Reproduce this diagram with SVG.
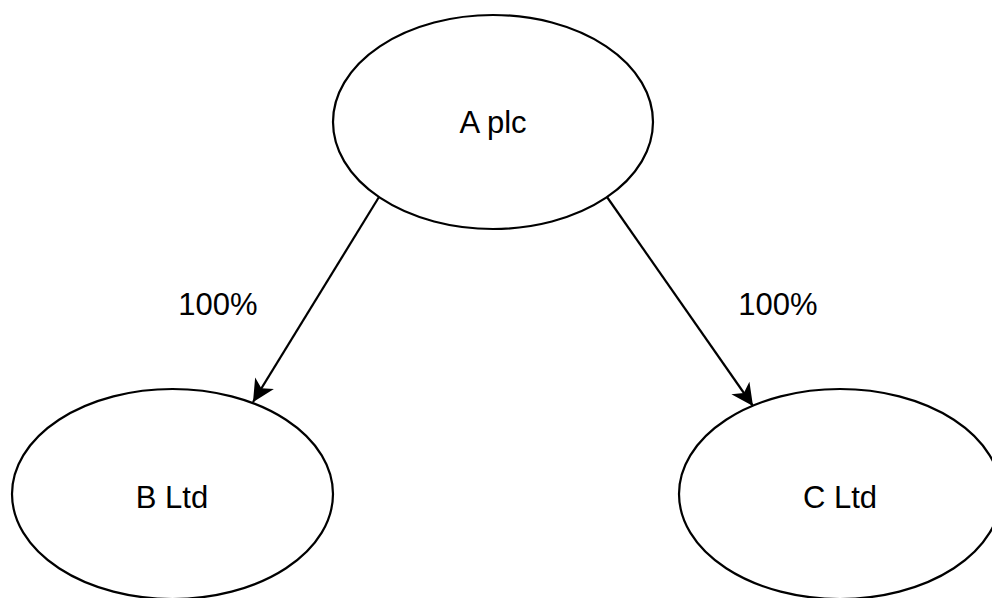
<svg xmlns="http://www.w3.org/2000/svg" width="992" height="598" viewBox="0 0 992 598">
<style>
.node ellipse{fill:#fff;stroke:#000;stroke-width:2.2}
.node text,.label{font-family:"Liberation Sans",Arial,Helvetica,sans-serif;font-size:31px;fill:#000;text-anchor:middle}
.edge{fill:none;stroke:#000;stroke-width:2.2}
</style>
<defs>
<marker id="arr" markerUnits="userSpaceOnUse" markerWidth="26" markerHeight="26" viewBox="-24 -13 26 26" refX="0" refY="0" orient="auto">
<path d="M0,0 L-22,-11 L-16,0 L-22,11 Z" fill="#000"/>
</marker>
</defs>
<rect width="992" height="598" fill="#fff"/>
<g id="connectors">
<line class="edge" x1="379" y1="197" x2="253" y2="402" marker-end="url(#arr)"/>
<line class="edge" x1="607" y1="197" x2="753" y2="406" marker-end="url(#arr)"/>
<text class="label" x="218" y="315">100%</text>
<text class="label" x="778" y="315">100%</text>
</g>
<g id="node-a" class="node">
<ellipse cx="493" cy="122" rx="160" ry="107"/>
<text x="493" y="133">A plc</text>
</g>
<g id="node-b" class="node">
<ellipse cx="172.5" cy="494" rx="160.5" ry="105"/>
<text x="172" y="508">B Ltd</text>
</g>
<g id="node-c" class="node">
<ellipse cx="840" cy="494" rx="161" ry="105"/>
<text x="840" y="508">C Ltd</text>
</g>
</svg>
